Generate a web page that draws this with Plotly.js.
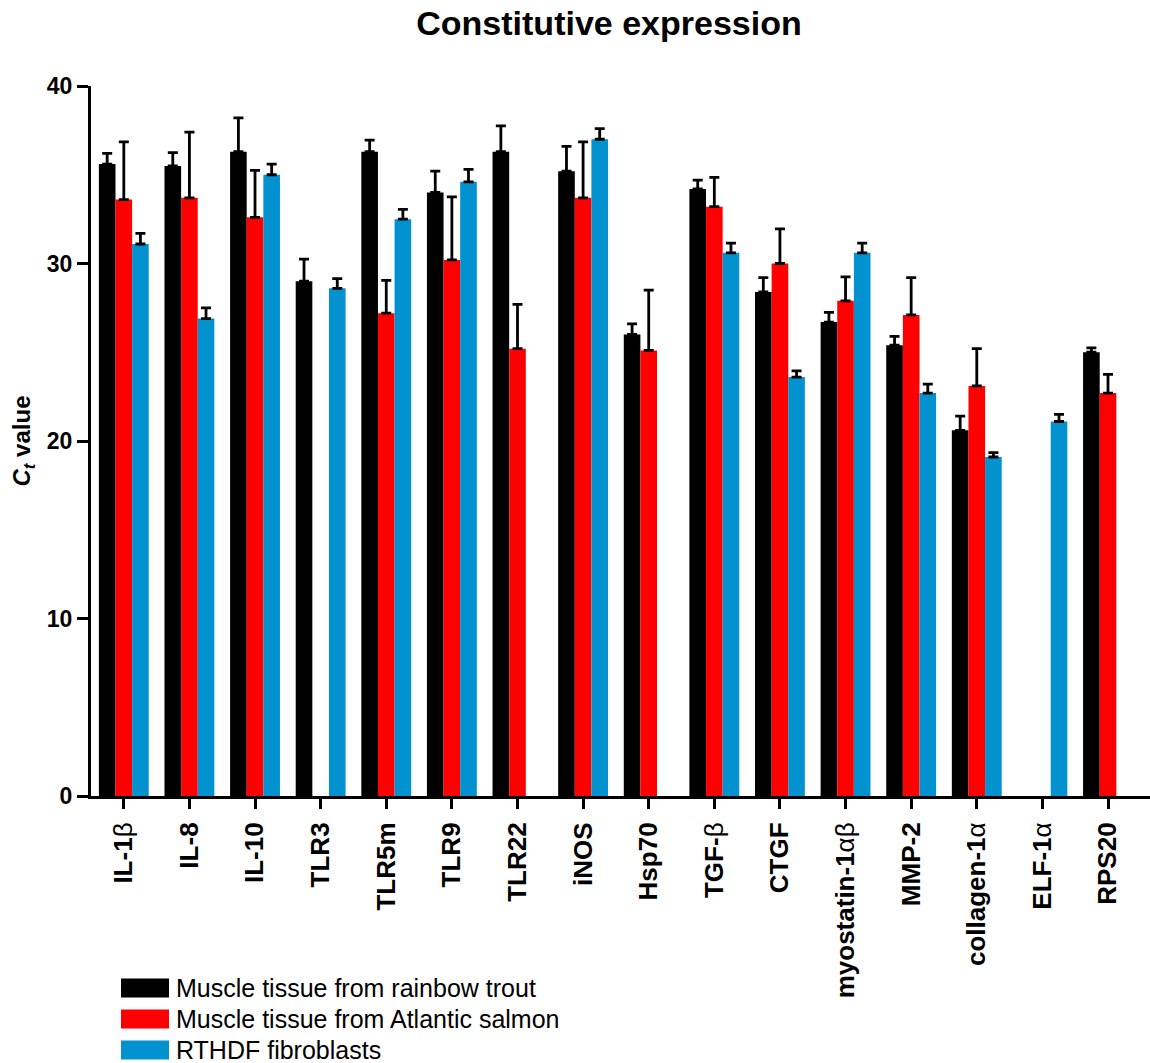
<!DOCTYPE html>
<html>
<head>
<meta charset="utf-8">
<script src="https://cdn.plot.ly/plotly-3.0.1.min.js"></script>
<style>html,body{margin:0;padding:0;background:#fff;}#chart{width:1150px;height:1063px;}</style>
</head>
<body>
<div id="chart"></div>
<script>
// ---- data ----
const categories = ["IL-1β","IL-8","IL-10","TLR3","TLR5m","TLR9","TLR22","iNOS","Hsp70","TGF-β","CTGF","myostatin-1αβ","MMP-2","collagen-1α","ELF-1α","RPS20"];
const tickLabels = ["IL-1<span style='font-weight:normal'>β</span>","IL-8","IL-10","TLR3","TLR5m","TLR9","TLR22","iNOS","Hsp70","TGF-<span style='font-weight:normal'>β</span>","CTGF","myostatin-1<span style='font-weight:normal'>αβ</span>","MMP-2","collagen-1<span style='font-weight:normal'>α</span>","ELF-1<span style='font-weight:normal'>α</span>","RPS20"];
const seriesNames = ["Muscle tissue from rainbow trout","Muscle tissue from Atlantic salmon","RTHDF fibroblasts"];
const troutValues  = [35.6, 35.5, 36.3, 29.0, 36.3, 34.0, 36.3, 35.2, 26.0, 34.2, 28.4, 26.7, 25.4, 20.6, null, 25.0];
const troutErr     = [0.6, 0.75, 1.9, 1.25, 0.65, 1.2, 1.45, 1.4, 0.6, 0.5, 0.8, 0.55, 0.5, 0.8, null, 0.25];
const salmonValues = [33.6, 33.7, 32.6, null, 27.2, 30.2, 25.2, 33.7, 25.1, 33.2, 30.0, 27.9, 27.1, 23.1, null, 22.7];
const salmonErr    = [3.25, 3.7, 2.65, null, 1.85, 3.55, 2.5, 3.15, 3.4, 1.65, 1.95, 1.35, 2.1, 2.1, null, 1.05];
const fibroValues  = [31.1, 26.9, 35.0, 28.6, 32.5, 34.6, null, 37.0, null, 30.6, 23.6, 30.6, 22.7, 19.1, 21.1, null];
const fibroErr     = [0.6, 0.6, 0.6, 0.55, 0.55, 0.7, null, 0.6, null, 0.55, 0.35, 0.55, 0.5, 0.25, 0.4, null];
const seriesColors = ["#000000","#FF0000","#0392D0"];
const yTicks = [0, 10, 20, 30, 40];

// ---- build ----
const FONT = 'Arial, Liberation Sans, sans-serif';
const vals = [troutValues, salmonValues, fibroValues];
const errs = [troutErr, salmonErr, fibroErr];
const traces = vals.map((v, i) => ({
  type: 'bar',
  name: seriesNames[i],
  x: categories,
  y: v,
  marker: {color: seriesColors[i], line: {width: 0}},
  error_y: {type: 'data', symmetric: false, array: errs[i], arrayminus: errs[i].map(() => 0),
            color: '#000', thickness: 2.8, width: 5},
  showlegend: false,
  hoverinfo: 'x+y'
}));

const W = 1150, H = 1063;
const mL = 91, mR = 0, mT = 86, mB = 267;
const pw = W - mL - mR, ph = H - mT - mB;
const px2x = p => (p - mL) / pw;
const py2y = p => (H - mB - p) / ph;

const shapes = [], annotations = [];
const legRows = [988, 1019, 1050];
seriesNames.forEach((n, i) => {
  shapes.push({type: 'rect', xref: 'paper', yref: 'paper',
    x0: px2x(121), x1: px2x(169), y0: py2y(legRows[i] + 9.5), y1: py2y(legRows[i] - 9.5),
    fillcolor: seriesColors[i], line: {width: 0}});
  annotations.push({xref: 'paper', yref: 'paper', x: px2x(174), y: py2y(legRows[i]),
    xanchor: 'left', yanchor: 'middle', showarrow: false, text: n,
    font: {family: FONT, size: 25, color: '#000'}});
});

const layout = {
  width: W, height: H,
  margin: {l: mL, r: mR, t: mT, b: mB},
  paper_bgcolor: '#fff', plot_bgcolor: '#fff',
  font: {family: FONT, color: '#000'},
  title: {text: '<b>Constitutive expression</b>', x: 609 / W, xref: 'container', xanchor: 'center',
          y: 1 - 23 / H, yref: 'container', yanchor: 'middle',
          font: {size: 34, family: FONT, color: '#000'}},
  barmode: 'group', bargap: 0.24, bargroupgap: 0,
  xaxis: {type: 'category', tickvals: categories, ticktext: tickLabels.map(t => '<b>' + t + '</b>'),
          tickangle: -90, ticks: 'outside', ticklen: 10, tickwidth: 3, tickcolor: '#000',
          showline: true, linewidth: 3, linecolor: '#000', showgrid: false, zeroline: false,
          range: [-0.5, categories.length - 0.36], automargin: false, ticklabelstandoff: 3,
          tickfont: {size: 26, family: FONT, color: '#000'}},
  yaxis: {range: [0, 40], tickvals: yTicks, ticktext: yTicks.map(t => '<b>' + t + '</b>'),
          ticks: 'outside', ticklen: 11, tickwidth: 3, tickcolor: '#000',
          showline: true, linewidth: 3, linecolor: '#000', showgrid: false, zeroline: false,
          automargin: false,
          tickfont: {size: 23, family: FONT, color: '#000'},
          title: {text: '<b><i>C</i><sub><i>t</i></sub> value</b>', standoff: 10,
                  font: {size: 24, family: FONT, color: '#000'}}},
  shapes: shapes,
  annotations: annotations
};

Plotly.newPlot('chart', traces, layout, {displayModeBar: false, staticPlot: true});
</script>
</body>
</html>
